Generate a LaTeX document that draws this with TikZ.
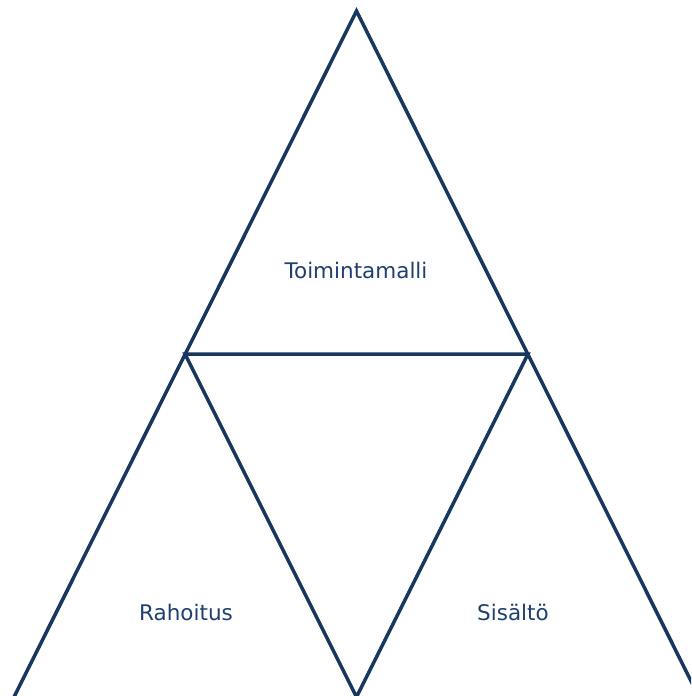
\documentclass[tikz,border=0pt]{standalone}
\usepackage{fontspec}
\setmainfont{DejaVu Sans}
\definecolor{linecol}{HTML}{17375E}
\definecolor{textcol}{HTML}{1F3F6E}
\begin{document}
\begin{tikzpicture}[x=1pt,y=-1pt,
  edge/.style={draw=linecol,line width=3.5pt,line join=miter,line cap=butt},
  lbl/.style={text=textcol,font=\fontsize{21.5}{24}\selectfont,inner sep=0pt}]
\useasboundingbox (0,0) rectangle (691,696);
\clip (0,0) rectangle (691,696);
\coordinate (apex) at (356.5,11);
\coordinate (ml) at (185,354);
\coordinate (mr) at (528,354);
\coordinate (bl) at (14,697);
\coordinate (bm) at (356.5,697);
\coordinate (br) at (699,697);
\draw[edge] (bl) -- (apex) -- (br);
\draw[edge] (ml) -- (mr) -- (bm) -- cycle;
\node[lbl] (toim) at (356,270) {Toimintamalli};
\node[lbl] (raho) at (186,612) {Rahoitus};
\node[lbl] (sis) at (513,612) {Sisältö};
\end{tikzpicture}
\end{document}
